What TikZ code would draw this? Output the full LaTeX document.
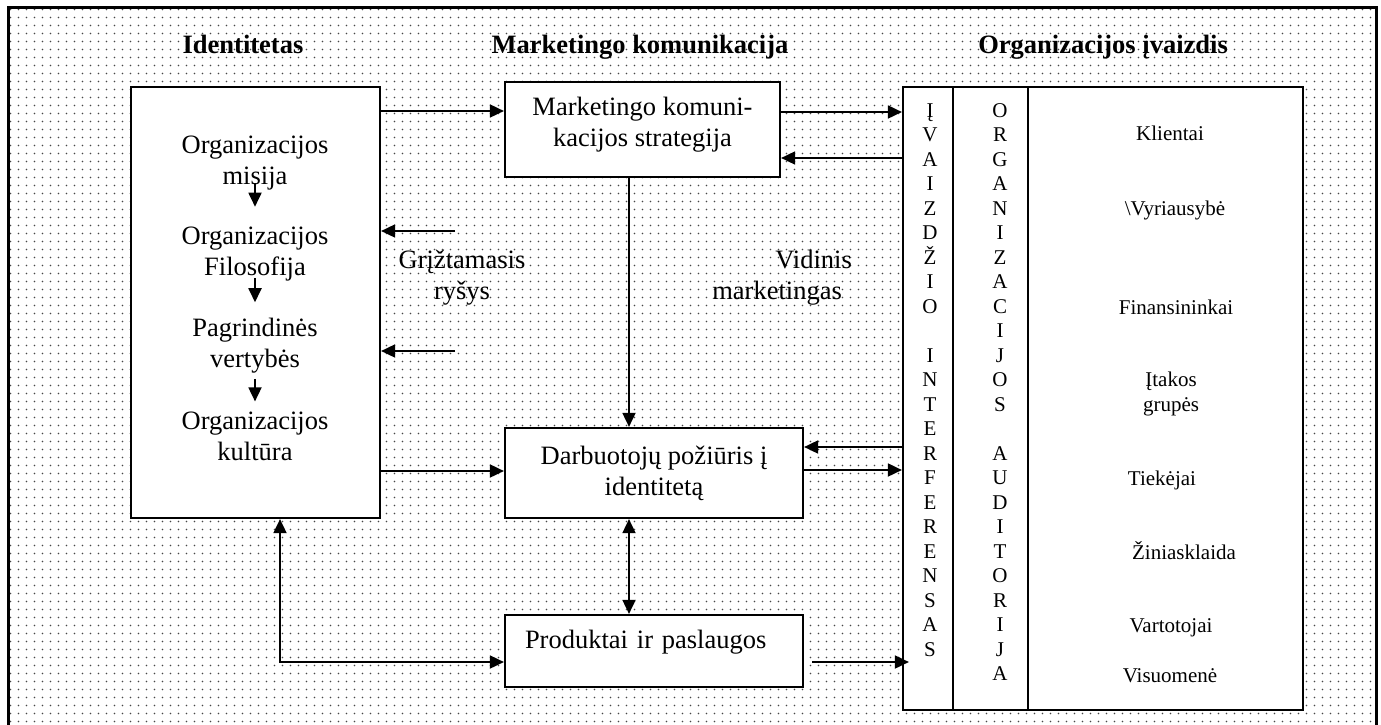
\documentclass[tikz,border=0pt]{standalone}
\usepackage{fontspec}
\setmainfont{Liberation Serif}
\usetikzlibrary{arrows.meta,patterns.meta,calc}

% fine dotted paper texture for the background
\tikzdeclarepattern{
  name=paperdots,
  type=uncolored,
  bounding box={(0pt,0pt) and (7.5pt,7.5pt)},
  tile size={(7.5pt,7.5pt)},
  code={\fill (3.75pt,3.75pt) circle (0.9pt);}
}

\begin{document}
\begin{tikzpicture}[x=1pt,y=-1pt,
  box/.style={draw, line width=2.2pt, fill=white, inner sep=0pt},
  tipA/.tip={Triangle[length=14pt,width=13pt]},
  arr/.style={line width=1.8pt, -tipA},
  dblarr/.style={line width=1.8pt, tipA-tipA},
  body/.style={font=\fontsize{26.5}{31}\selectfont, align=center, inner sep=0pt},
  head/.style={font=\fontsize{26.5}{31}\selectfont\bfseries, inner sep=0pt, anchor=base},
  small/.style={font=\fontsize{21}{24.5}\selectfont, inner sep=0pt, anchor=base, align=center},
]
\useasboundingbox (0,0) rectangle (1381,725);
\fill[white] (0,0) rectangle (1381,725);
\fill[pattern=paperdots, pattern color=black!72] (8,8) rectangle (1376,725);
\draw[line width=3pt] (8,730) -- (8,8) -- (1376,8) -- (1376,730);

% column headings
\node[head] (h1) at (243,54) {Identitetas};
\node[head] (h2) at (640,54) {Marketingo komunikacija};
\node[head, anchor=base east] (h3) at (1228,54) {Organizacijos įvaizdis};

% identity block
\node[box, minimum width=249pt, minimum height=431pt] (lbox) at (255.5,302.5) {};
\node[body] (g1) at (255,163) {Organizacijos\\misija};
\node[body] (g2) at (255,254) {Organizacijos\\Filosofija};
\node[body] (g3) at (255,346) {Pagrindinės\\vertybės};
\node[body] (g4) at (255,436) {Organizacijos\\kultūra};
\draw[arr, shorten <=-7pt, shorten >=20pt] (g1.south) -- (g2.north);
\draw[arr, shorten <=-3pt, shorten >=16pt] (g2.south) -- (g3.north);
\draw[arr, shorten <=5pt, shorten >=10pt] (g3.south) -- (g4.north);

% marketing communication blocks
\node[box, minimum width=275pt, minimum height=95pt] (sbox) at (642.5,129.5) {};
\node[body] (stxt) at (642.5,124.5) {Marketingo komuni-\\kacijos strategija};
\node[box, body, minimum width=298pt, minimum height=90pt] (dbox) at (654,473) {Darbuotojų požiūris į\\identitetą};
\node[box, body, minimum width=298pt, minimum height=72pt, align=left, text width=258pt, text depth=24pt] (pbox) at (654,651) {Produktai ir paslaugos};

% image / audiences block
\node[box, minimum width=50pt, minimum height=623pt] (colA) at (928,398.5) {};
\node[box, minimum width=75pt, minimum height=623pt] (colB) at (990.5,398.5) {};
\node[box, minimum width=275pt, minimum height=623pt] (colC) at (1165.5,398.5) {};

\foreach \ch [count=\k] in {Į,V,A,I,Z,D,Ž,I,O}
  \node[small] (ia\k) at (930,{117+24.5*(\k-1)}) {\ch};
\foreach \ch [count=\k] in {I,N,T,E,R,F,E,R,E,N,S,A,S}
  \node[small] (ib\k) at (930,{117+24.5*(\k+9)}) {\ch};
\foreach \ch [count=\k] in {O,R,G,A,N,I,Z,A,C,I,J,O,S}
  \node[small] (oa\k) at (1000,{117+24.5*(\k-1)}) {\ch};
\foreach \ch [count=\k] in {A,U,D,I,T,O,R,I,J,A}
  \node[small] (ob\k) at (1000,{117+24.5*(\k+13)}) {\ch};

\node[small] (a1) at (1170,140) {Klientai};
\node[small] (a2) at (1175,215) {\textbackslash Vyriausybė};
\node[small] (a3) at (1176,314) {Finansininkai};
\node[small, anchor=center] (a4) at (1171,394) {Įtakos\\grupės};
\node[small] (a5) at (1162,485) {Tiekėjai};
\node[small] (a6) at (1184,559) {Žiniasklaida};
\node[small] (a7) at (1171,632) {Vartotojai};
\node[small] (a8) at (1170,682) {Visuomenė};

% free-standing labels
\node[body] (fbl) at (462,278) {Grįžtamasis\\ryšys};
\node[body, align=right, anchor=east] (vml) at (852,278) {Vidinis\\marketingas\hspace*{10pt}};

% feedback arrows into the identity block
\coordinate (fb1) at (455,231);
\coordinate (fb2) at (455,351);
\draw[arr] (fb1) -- (fb1 -| lbox.east);
\draw[arr] (fb2) -- (fb2 -| lbox.east);

% connectors
\draw[arr] (lbox.east |- 0,111) -- (sbox.west |- 0,111);
\draw[arr] (sbox.east |- 0,112) -- (colA.west |- 0,112);
\draw[arr] (colA.west |- 0,158) -- (sbox.east |- 0,158);
\draw[arr] (lbox.east |- 0,471) -- (dbox.west |- 0,471);
\draw[arr] (colA.west |- 0,447) -- (dbox.east |- 0,447);
\draw[arr] (dbox.east |- 0,470) -- (colA.west |- 0,470);
\draw[arr] (sbox.south -| 629,0) -- (dbox.north -| 629,0);
\draw[dblarr] (dbox.south -| 629,0) -- (pbox.north -| 629,0);
\draw[dblarr] (lbox.south -| 280,0) |- (pbox.west |- 0,662);
\draw[arr, shorten <=8pt, shorten >=-7pt] (pbox.east |- 0,662) -- (colA.west |- 0,662);
\end{tikzpicture}
\end{document}
